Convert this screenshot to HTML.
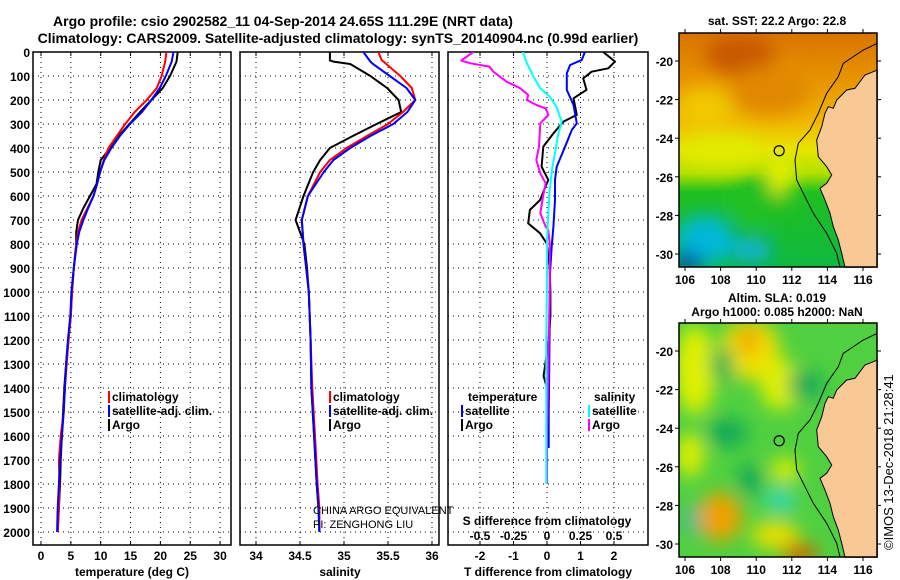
<!DOCTYPE html>
<html><head><meta charset="utf-8">
<style>
html,body{margin:0;padding:0;background:#fff;}
svg{display:block;font-family:"Liberation Sans",sans-serif;}
.t{font-weight:bold;font-size:12px;fill:#000;}
.n{font-weight:normal;font-size:11px;fill:#000;}
.h{font-weight:bold;font-size:14px;fill:#000;}
</style></head>
<body>
<svg id="fig" width="900" height="580" viewBox="0 0 900 580">
<text class="h" x="283" y="26" text-anchor="middle">Argo profile: csio 2902582_11 04-Sep-2014 24.65S 111.29E (NRT data)</text>
<text class="h" x="338" y="43" text-anchor="middle">Climatology: CARS2009. Satellite-adjusted climatology: synTS_20140904.nc (0.99d earlier)</text>
<defs>
<clipPath id="c1"><rect x="33" y="52" width="198" height="493"/></clipPath>
<clipPath id="c2"><rect x="240" y="52" width="199" height="493"/></clipPath>
<clipPath id="c3"><rect x="448" y="52" width="200" height="493"/></clipPath>
<clipPath id="m1"><rect x="679" y="33" width="198" height="234"/></clipPath>
<clipPath id="m2"><rect x="679" y="323" width="198" height="234"/></clipPath>
<filter id="bl" x="-50%" y="-50%" width="200%" height="200%"><feGaussianBlur stdDeviation="9"/></filter>
<linearGradient id="sstg" x1="0" y1="0" x2="0" y2="1">
<stop offset="0" stop-color="#d87400"/><stop offset="0.2" stop-color="#e89400"/>
<stop offset="0.38" stop-color="#f0b800"/><stop offset="0.5" stop-color="#e8e400"/>
<stop offset="0.6" stop-color="#b0e000"/><stop offset="0.68" stop-color="#20c020"/>
<stop offset="1" stop-color="#10b840"/></linearGradient>
</defs>
<g id="panels"></g>
<g id="maps">
 <g clip-path="url(#m1)">
  <rect x="679" y="33" width="198" height="234" fill="url(#sstg)"/>
  <g filter="url(#bl)">
   <ellipse cx="740" cy="55" rx="35" ry="20" fill="#c85800"/>
   <ellipse cx="770" cy="90" rx="40" ry="25" fill="#e08800"/>
   <ellipse cx="705" cy="110" rx="28" ry="22" fill="#f0c800"/>
   <ellipse cx="720" cy="150" rx="40" ry="15" fill="#e0ec00"/>
   <ellipse cx="760" cy="200" rx="30" ry="22" fill="#20c020"/>
   <ellipse cx="705" cy="240" rx="30" ry="25" fill="#00b8d8"/>
   <ellipse cx="752" cy="250" rx="20" ry="12" fill="#10b0e0"/>
   <ellipse cx="688" cy="262" rx="14" ry="10" fill="#0030b0"/>
   <ellipse cx="780" cy="175" rx="12" ry="20" fill="#e8f000"/>
  </g>
 </g>
 <g clip-path="url(#m2)">
  <rect x="679" y="323" width="198" height="234" fill="#50d040"/>
  <g filter="url(#bl)">
   <ellipse cx="695" cy="370" rx="20" ry="45" fill="#e0f000"/>
   <ellipse cx="750" cy="350" rx="30" ry="30" fill="#f0e000"/>
   <ellipse cx="748" cy="340" rx="12" ry="14" fill="#f0a800"/>
   <ellipse cx="780" cy="385" rx="20" ry="25" fill="#e0f000"/>
   <ellipse cx="722" cy="365" rx="12" ry="18" fill="#20b050"/>
   <ellipse cx="727" cy="433" rx="20" ry="14" fill="#10a858"/>
   <ellipse cx="805" cy="385" rx="18" ry="14" fill="#10a858"/>
   <ellipse cx="750" cy="480" rx="12" ry="16" fill="#10a858"/>
   <ellipse cx="693" cy="520" rx="10" ry="14" fill="#30b8a0"/>
   <ellipse cx="780" cy="500" rx="16" ry="10" fill="#30d8c0"/>
   <ellipse cx="720" cy="517" rx="22" ry="24" fill="#f0a000"/>
   <ellipse cx="785" cy="470" rx="14" ry="12" fill="#e0f000"/>
   <ellipse cx="775" cy="535" rx="24" ry="14" fill="#e8e000"/>
   <ellipse cx="800" cy="553" rx="18" ry="10" fill="#d06000"/>
   <ellipse cx="690" cy="455" rx="14" ry="22" fill="#e0f000"/>
  </g>
 </g>
 <g id="coast"></g>
</g>
<text x="0" y="0" transform="translate(893,550) rotate(-90)" font-size="13" font-family="Liberation Sans, sans-serif">©IMOS 13-Dec-2018 21:28:41</text>
</svg>
<script>
// ---- data ----
const depthTicks=[0,100,200,300,400,500,600,700,800,900,1000,1100,1200,1300,1400,1500,1600,1700,1800,1900,2000];
const tempTicks=[0,5,10,15,20,25,30];
const salTicks=[34,34.5,35,35.5,36];
const dtTicks=[-2,-1,0,1,2];
const dsTicks=[-0.5,-0.25,0,0.25,0.5];
const dsTickLabels=["-0.5","-0.25","0","0.25","0.5"];
const tempDepth=[0,40,100,150,200,250,300,350,400,450,500,550,600,650,700,750,800,900,1000,1100,1200,1300,1400,1500,1600,1700,1800,1900,2000];
const tempArgo=[22.9,22.7,21.6,20.4,18.5,16.6,14.8,13.0,11.6,10.0,9.6,9.3,8.2,7.1,6.2,5.9,5.9,5.5,5.2,5.0,4.6,4.2,3.9,3.7,3.5,3.3,3.2,3.0,2.8];
const tempClim=[21.0,20.8,20.2,19.4,17.7,15.7,14.1,12.7,11.3,10.5,9.9,9.4,8.8,7.8,6.8,6.2,5.9,5.5,5.2,5.0,4.6,4.3,4.0,3.8,3.3,3.0,3.1,3.0,2.8];
const tempSat=[22.2,21.9,20.9,19.9,18.5,16.9,14.9,13.2,11.8,10.6,9.9,9.4,8.8,7.9,7.1,6.4,6.0,5.5,5.1,4.9,4.5,4.2,4.0,3.8,3.5,3.2,3.0,2.8,2.7];
const salDepth=[0,35,40,50,100,150,200,250,300,350,400,450,500,600,700,800,900,1000,1100,1200,1400,1600,1800,1900,2000];
const salArgo=[34.84,34.84,34.88,35.07,35.30,35.49,35.62,35.65,35.37,35.10,34.84,34.73,34.65,34.54,34.45,34.55,34.58,34.60,34.61,34.62,34.63,34.66,34.69,34.71,34.72];
const salClim=[35.39,35.43,35.45,35.48,35.64,35.77,35.81,35.67,35.50,35.26,35.03,34.84,34.73,34.59,34.52,34.54,34.57,34.60,34.61,34.62,34.64,34.67,34.70,34.72,34.72];
const salSat=[35.22,35.29,35.30,35.33,35.52,35.71,35.81,35.72,35.56,35.30,35.07,34.88,34.77,34.59,34.52,34.54,34.57,34.60,34.61,34.62,34.63,34.66,34.69,34.71,34.72];
const dtArgoDepth=[0,40,68,82,110,158,193,262,290,339,394,478,533,617,658,714,755,797,900,1000,1100,1200,1300,1350,1400];
const dtArgo=[1.68,2.03,1.83,1.33,1.08,1.18,0.79,0.89,0.49,0.19,-0.11,-0.16,0.04,-0.21,-0.51,-0.56,-0.21,-0.01,0.08,0.1,0.1,0.05,-0.05,-0.1,0.0];
const dtSatDepth=[0,33,54,89,158,221,297,325,394,478,533,617,728,811,922,1100,1300,1500,1650];
const dtSat=[1.13,1.04,0.69,0.59,0.59,0.79,0.89,0.74,0.54,0.29,0.24,0.24,0.19,0.14,0.09,0.08,0.07,0.05,0.05];
const dsArgoDepth=[0,36,47,61,82,124,151,179,200,221,235,262,297,394,450,506,547,603,672,728,742,797,1000,1300,1600,1800];
const dsArgo=[-0.55,-0.64,-0.57,-0.43,-0.40,-0.30,-0.20,-0.14,-0.15,-0.08,-0.01,0.01,-0.05,-0.06,-0.08,-0.05,-0.01,-0.03,-0.05,-0.01,0.01,0.02,0.02,0.01,0.0,0.0];
const dsSatDepth=[0,47,103,151,186,228,290,353,422,478,575,672,783,922,1200,1500,1800];
const dsSat=[-0.18,-0.15,-0.10,-0.05,0.02,0.07,0.11,0.08,0.06,0.04,0.02,0.01,0.0,0.0,-0.005,-0.005,-0.005];
const lonTicks=[106,108,110,112,114,116];
const latTicks=[-20,-22,-24,-26,-28,-30];
const floatLon=[111.29];
const floatLat=[-24.65];

// ---- axes ----
const NS="http://www.w3.org/2000/svg";
const TOP=52,BOT=545;
const dY=d=>52+d*0.24;
const tX=v=>41+v*5.97;
const sX=v=>256+(v-34)*88;
const dtX=v=>547+v*33.5;
const dsX=v=>547+v*134;
const lonX=l=>685+(l-106)*17.8;
const latY=(l,off)=>61+off+(-20-l)*19.3;
const P=document.getElementById('panels');
function el(tag,attrs,parent){const e=document.createElementNS(NS,tag);for(const k in attrs)e.setAttribute(k,attrs[k]);(parent||P).appendChild(e);return e;}
function txt(s,x,y,anchor,cls,parent){const e=el('text',{x:x,y:y,'text-anchor':anchor||'start',class:cls||'t'},parent);e.textContent=s;return e;}

function panel(x0,x1,name,xt,xf,clip){
  const g=el('g',{});
  
  
  depthTicks.forEach(d=>{const l=el('line',{x1:x0,x2:x1,y1:dY(d),y2:dY(d),stroke:'#000','stroke-width':1,'stroke-dasharray':'1,4'},g);
    
    });
  xt.forEach(v=>{const x=xf(v);const l=el('line',{x1:x,x2:x,y1:TOP,y2:BOT,stroke:'#000','stroke-width':1,'stroke-dasharray':'1,4'},g);
    
    
    el('line',{x1:x,x2:x,y1:TOP,y2:TOP+4,stroke:'#000'},g);el('line',{x1:x,x2:x,y1:BOT-4,y2:BOT,stroke:'#000'},g);});
  el('rect',{x:x0,y:TOP,width:x1-x0,height:BOT-TOP,fill:'none',stroke:'#000','stroke-width':1.5},g);
  return el('g',{'clip-path':clip},g);
}
function line(g,xs,ds,xf,color,name,w){
  const pts=xs.map((v,i)=>xf(v).toFixed(1)+','+dY(ds[i]).toFixed(1)).join(' ');
  const p=el('polyline',{points:pts,fill:'none',stroke:color,'stroke-width':w||2,'stroke-linejoin':'round'},g);
  
  
}
// panel 1
const g1=panel(33,231,'temperature-panel',tempTicks,tX,'url(#c1)');
line(g1,tempArgo,tempDepth,tX,'#000','temp-argo-line');
line(g1,tempClim,tempDepth,tX,'#f00','temp-climatology-line');
line(g1,tempSat,tempDepth,tX,'#00f','temp-satellite-line');
depthTicks.forEach(d=>{const t=txt(String(d),30,dY(d)+5,'end');
  
  });
tempTicks.forEach(v=>{const t=txt(String(v),tX(v),560,'middle');
  
  });
txt('temperature (deg C)',132,576,'middle');
// panel 2
const g2=panel(240,439,'salinity-panel',salTicks,sX,'url(#c2)');
line(g2,salArgo,salDepth,sX,'#000','salinity-argo-line');
line(g2,salClim,salDepth,sX,'#f00','salinity-climatology-line');
line(g2,salSat,salDepth,sX,'#00f','salinity-satellite-line');
salTicks.forEach(v=>{const t=txt(String(v),sX(v),560,'middle');
  
  });
txt('salinity',340,576,'middle');
// panel 3
const g3=panel(448,648,'difference-panel',dtTicks,dtX,'url(#c3)');
line(g3,dtArgo,dtArgoDepth,dtX,'#000','temp-diff-argo-line');
line(g3,dtSat,dtSatDepth,dtX,'#00f','temp-diff-satellite-line');
line(g3,dsArgo,dsArgoDepth,dsX,'#f0f','sal-diff-argo-line');
line(g3,dsSat,dsSatDepth,dsX,'#0ff','sal-diff-satellite-line');
dtTicks.forEach(v=>{const t=txt(String(v),dtX(v),560,'middle');
  
  });
dsTicks.forEach((v,i)=>{const t=txt(dsTickLabels[i],dsX(v),540,'middle');
  
  });
txt('S difference from climatology',547,525,'middle');
txt('T difference from climatology',548,576,'middle');

// legends
function leg(x,y,color,label,name){
  const g=el('g',{});
  
  
  el('rect',{x:x,y:y-10,width:2,height:12,fill:color},g);
  txt(label,x+4,y,'start','t',g);
}
[['#f00','climatology'],['#00f','satellite-adj. clim.'],['#000','Argo']].forEach((r,i)=>leg(108,401+i*14,r[0],r[1],'temp-legend-entry'));
[['#f00','climatology'],['#00f','satellite-adj. clim.'],['#000','Argo']].forEach((r,i)=>leg(329,401+i*14,r[0],r[1],'salinity-legend-entry'));
txt('temperature',468,401);
txt('salinity',594,401);
leg(461,415,'#00f','satellite','diff-legend-temp-satellite');
leg(461,429,'#000','Argo','diff-legend-temp-argo');
leg(588,415,'#0ff','satellite','diff-legend-sal-satellite');
leg(588,429,'#f0f','Argo','diff-legend-sal-argo');
txt('CHINA ARGO EQUIVALENT',313,514,'start','n');
txt('PI: ZENGHONG LIU',313,528,'start','n');

// maps
const C=document.getElementById('coast');
const landPts=[[622,210],[610,215],[585,225],[555,265],[530,270],[500,300],[490,325],[475,320],[465,340],[455,380],[440,420],[445,470],[470,500],[485,525],[470,550],[450,565],[465,600],[480,640],[490,680],[505,720],[515,760],[525,802],[622,802]];
const isoPts=[[622,130],[580,150],[520,190],[505,230],[470,280],[445,340],[420,390],[385,430],[375,480],[380,540],[400,580],[430,640],[470,700],[500,760],[510,802]];
[0,290].forEach(off=>{
  const lp=landPts.map(p=>(p[0]/3+670).toFixed(1)+','+(p[1]/3+off).toFixed(1)).join(' ');
  const land=el('polygon',{points:lp,fill:'#f9c995',stroke:'#000','stroke-width':1},C);
  
  
  const ip=isoPts.map(p=>(p[0]/3+670).toFixed(1)+','+(p[1]/3+off).toFixed(1)).join(' ');
  const iso=el('polyline',{points:ip,fill:'none',stroke:'#000','stroke-width':1},C);
  
  
  const top=33+off, bot=267+off;
  el('rect',{x:679,y:top,width:198,height:234,fill:'none',stroke:'#000','stroke-width':1.5},C);
  lonTicks.forEach(l=>{const x=lonX(l);el('line',{x1:x,x2:x,y1:top-4,y2:top,stroke:'#000'},C);el('line',{x1:x,x2:x,y1:bot,y2:bot+4,stroke:'#000'},C);
    const t=txt(String(l),x,bot+17,'middle','t',C);
    
    });
  latTicks.forEach(l=>{const y=latY(l,off);el('line',{x1:675,x2:679,y1:y,y2:y,stroke:'#000'},C);el('line',{x1:877,x2:881,y1:y,y2:y,stroke:'#000'},C);
    const t=txt(String(l),673,y+5,'end','t',C);
    
    });
  floatLon.forEach((lo,i)=>{const m=el('circle',{cx:lonX(lo),cy:latY(floatLat[i],off),r:5,fill:'none',stroke:'#000','stroke-width':1.2},C);
    
    });
});
txt('sat. SST: 22.2 Argo: 22.8',777,25,'middle','t',C);
txt('Altim. SLA: 0.019',777,302,'middle','t',C);
txt('Argo h1000: 0.085 h2000: NaN',777,316,'middle','t',C);
</script>
</body></html>
